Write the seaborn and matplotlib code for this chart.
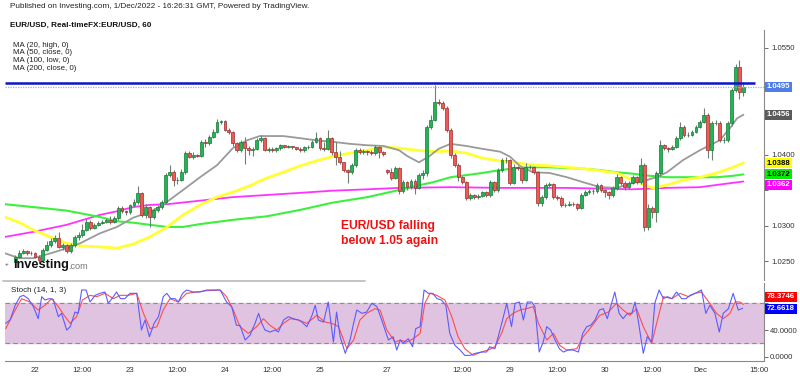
import numpy as np
import pandas as pd
import matplotlib
matplotlib.use("Agg")
import matplotlib.pyplot as plt
from matplotlib.lines import Line2D
import seaborn as sns

# ---------------- data ----------------
OPEN0 = 1.0249
SUNDAY_IDX = 94
SUNDAY_OPEN = 1.0378

closes = [
    1.0256, 1.0262, 1.0264, 1.0261, 1.0262, 1.0256, 1.0251, 1.0266, 1.0273, 1.0278,
    1.0282, 1.0270, 1.0272, 1.0264, 1.0273, 1.0284, 1.0287, 1.0294, 1.0305, 1.0297,
    1.0301, 1.0304, 1.0305, 1.0308, 1.0305, 1.0310, 1.0325, 1.0320, 1.0319, 1.0329,
    1.0333, 1.0346, 1.0315, 1.0326, 1.0312, 1.0322, 1.0326, 1.0333, 1.0371, 1.0375,
    1.0364, 1.0364, 1.0375, 1.0402, 1.0397, 1.0399, 1.0398, 1.0418, 1.0416, 1.0425,
    1.0432, 1.0446, 1.0447, 1.0435, 1.0432, 1.0416, 1.0406, 1.0418, 1.0409, 1.0406,
    1.0408, 1.0420, 1.0423, 1.0407, 1.0408, 1.0406, 1.0409, 1.0413, 1.0411, 1.0412,
    1.0410, 1.0408, 1.0406, 1.0410, 1.0411, 1.0418, 1.0423, 1.0409, 1.0408, 1.0423,
    1.0403, 1.0397, 1.0389, 1.0378, 1.0375, 1.0385, 1.0406, 1.0404, 1.0405, 1.0403,
    1.0402, 1.0411, 1.0403, 1.0401, 1.0375, 1.0367, 1.0381, 1.0348, 1.0361, 1.0354,
    1.0363, 1.0353, 1.0371, 1.0374, 1.0439, 1.0449, 1.0474, 1.0473, 1.0466, 1.0435,
    1.0399, 1.0385, 1.0368, 1.0361, 1.0339, 1.0343, 1.0340, 1.0342, 1.0347, 1.0343,
    1.0361, 1.0350, 1.0378, 1.0392, 1.0392, 1.0360, 1.0382, 1.0381, 1.0364, 1.0382,
    1.0382, 1.0375, 1.0332, 1.0340, 1.0357, 1.0358, 1.0340, 1.0339, 1.0329, 1.0329,
    1.0331, 1.0330, 1.0325, 1.0343, 1.0347, 1.0348, 1.0348, 1.0357, 1.0350, 1.0347,
    1.0343, 1.0353, 1.0368, 1.0360, 1.0354, 1.0360, 1.0368, 1.0361, 1.0385, 1.0298,
    1.0325, 1.0319, 1.0374, 1.0413, 1.0409, 1.0408, 1.0411, 1.0423, 1.0439, 1.0427,
    1.0428, 1.0432, 1.0439, 1.0446, 1.0456, 1.0406, 1.0444, 1.0445, 1.0420, 1.0420,
    1.0444, 1.0491, 1.0523, 1.0488, 1.0495,
]
highs = [
    1.0258, 1.0265, 1.0267, 1.0266, 1.0264, 1.0263, 1.0258, 1.0268, 1.0278, 1.0283,
    1.0286, 1.0291, 1.0276, 1.0274, 1.0276, 1.0287, 1.0291, 1.0302, 1.0309, 1.0308,
    1.0304, 1.0307, 1.0308, 1.0311, 1.0313, 1.0313, 1.0328, 1.0327, 1.0322, 1.0331,
    1.0337, 1.0355, 1.0347, 1.0330, 1.0328, 1.0325, 1.0329, 1.0336, 1.0374, 1.0385,
    1.0378, 1.0368, 1.0380, 1.0405, 1.0405, 1.0403, 1.0401, 1.0421, 1.0422, 1.0428,
    1.0436, 1.0450, 1.0449, 1.0448, 1.0437, 1.0433, 1.0418, 1.0421, 1.0424, 1.0412,
    1.0411, 1.0423, 1.0427, 1.0425, 1.0410, 1.0410, 1.0411, 1.0415, 1.0414, 1.0414,
    1.0412, 1.0411, 1.0410, 1.0412, 1.0413, 1.0420, 1.0432, 1.0425, 1.0418, 1.0434,
    1.0425, 1.0418, 1.0405, 1.0390, 1.0380, 1.0388, 1.0409, 1.0409, 1.0408, 1.0406,
    1.0406, 1.0413, 1.0412, 1.0405, 1.0380, 1.0381, 1.0384, 1.0383, 1.0364, 1.0363,
    1.0366, 1.0365, 1.0374, 1.0378, 1.0442, 1.0455, 1.0498, 1.0478, 1.0475, 1.0468,
    1.0437, 1.0402, 1.0388, 1.0370, 1.0363, 1.0346, 1.0345, 1.0345, 1.0349, 1.0348,
    1.0364, 1.0362, 1.0381, 1.0395, 1.0396, 1.0394, 1.0386, 1.0384, 1.0383, 1.0388,
    1.0385, 1.0384, 1.0377, 1.0343, 1.0360, 1.0361, 1.0360, 1.0343, 1.0341, 1.0332,
    1.0334, 1.0333, 1.0332, 1.0346, 1.0350, 1.0351, 1.0351, 1.0360, 1.0358, 1.0352,
    1.0349, 1.0356, 1.0372, 1.0370, 1.0362, 1.0363, 1.0371, 1.0370, 1.0395, 1.0388,
    1.0330, 1.0328, 1.0377, 1.0420, 1.0415, 1.0411, 1.0413, 1.0426, 1.0446, 1.0441,
    1.0431, 1.0434, 1.0442, 1.0449, 1.0466, 1.0458, 1.0447, 1.0448, 1.0447, 1.0424,
    1.0447, 1.0494, 1.0528, 1.0533, 1.0502,
]
lows = [
    1.0246, 1.0254, 1.0260, 1.0259, 1.0259, 1.0254, 1.0248, 1.0249, 1.0264, 1.0270,
    1.0276, 1.0268, 1.0266, 1.0262, 1.0262, 1.0270, 1.0280, 1.0284, 1.0292, 1.0294,
    1.0295, 1.0299, 1.0302, 1.0303, 1.0302, 1.0303, 1.0308, 1.0317, 1.0315, 1.0316,
    1.0326, 1.0330, 1.0312, 1.0310, 1.0298, 1.0309, 1.0319, 1.0323, 1.0330, 1.0368,
    1.0355, 1.0358, 1.0362, 1.0372, 1.0395, 1.0394, 1.0396, 1.0396, 1.0411, 1.0413,
    1.0423, 1.0430, 1.0443, 1.0433, 1.0429, 1.0412, 1.0403, 1.0404, 1.0386, 1.0400,
    1.0398, 1.0406, 1.0418, 1.0405, 1.0404, 1.0403, 1.0404, 1.0406, 1.0409, 1.0409,
    1.0408, 1.0406, 1.0404, 1.0404, 1.0408, 1.0409, 1.0416, 1.0406, 1.0405, 1.0407,
    1.0400, 1.0385, 1.0386, 1.0376, 1.0360, 1.0372, 1.0383, 1.0401, 1.0401, 1.0400,
    1.0399, 1.0400, 1.0395, 1.0398, 1.0372, 1.0364, 1.0365, 1.0344, 1.0346, 1.0350,
    1.0352, 1.0345, 1.0351, 1.0366, 1.0370, 1.0436, 1.0447, 1.0470, 1.0463, 1.0432,
    1.0395, 1.0382, 1.0363, 1.0358, 1.0336, 1.0336, 1.0337, 1.0338, 1.0340, 1.0340,
    1.0340, 1.0347, 1.0347, 1.0375, 1.0388, 1.0357, 1.0358, 1.0378, 1.0360, 1.0362,
    1.0379, 1.0372, 1.0327, 1.0328, 1.0338, 1.0354, 1.0337, 1.0336, 1.0326, 1.0326,
    1.0327, 1.0327, 1.0322, 1.0323, 1.0341, 1.0345, 1.0345, 1.0346, 1.0347, 1.0340,
    1.0338, 1.0340, 1.0350, 1.0357, 1.0350, 1.0352, 1.0358, 1.0358, 1.0358, 1.0292,
    1.0294, 1.0310, 1.0305, 1.0370, 1.0406, 1.0404, 1.0406, 1.0409, 1.0421, 1.0424,
    1.0425, 1.0426, 1.0430, 1.0437, 1.0444, 1.0395, 1.0392, 1.0441, 1.0417, 1.0416,
    1.0418, 1.0440, 1.0488, 1.0478, 1.0483,
]

# moving averages (bar position, value)
ma20_x = [-2.6, 1, 4.5, 9, 13, 16.4, 21.4, 25.7, 29.8, 34, 37.3, 42.4, 46.7, 51, 55, 58.6,
          61.8, 67.7, 72, 76, 80, 84.6, 89, 93, 97, 99, 102, 104.5, 107, 110, 114, 118,
          122.5, 125, 127.5, 130.8, 135, 139.4, 143.5, 147.8, 152, 156, 159.6, 162, 164.7,
          168.7, 173, 175.5, 178, 180.6, 182.4, 184]
ma20_y = [1.0261, 1.0254, 1.0254, 1.0261, 1.0268, 1.0275, 1.0289, 1.0298, 1.0311, 1.0319,
          1.0329, 1.0350, 1.0368, 1.0385, 1.0409, 1.0420, 1.0426, 1.0426, 1.0423, 1.0420,
          1.0418, 1.0415, 1.0413, 1.0412, 1.0406, 1.0398, 1.0389, 1.0397, 1.0408, 1.0415,
          1.0412, 1.0408, 1.0404, 1.0397, 1.0384, 1.0375, 1.0374, 1.0368, 1.0361, 1.0354,
          1.0353, 1.0360, 1.0364, 1.0368, 1.0375, 1.0392, 1.0406, 1.0413, 1.0420, 1.0437,
          1.0451, 1.0456]
ma50_x = [-2.6, 1.2, 4.5, 8.8, 13, 17, 21.4, 25.7, 29.8, 34, 38.4, 42.4, 46.7, 51, 55, 59.3,
          63.6, 67.7, 72, 76, 80, 84.6, 89, 93, 97, 101.5, 105.6, 110, 114, 118, 122.5, 127,
          131, 135, 139.4, 143.5, 147.8, 152, 156, 159.6, 161, 164.7, 168.7, 173, 177.3,
          181.4, 184]
ma50_y = [1.0312, 1.0304, 1.0294, 1.0284, 1.0275, 1.0271, 1.0270, 1.0268, 1.0274, 1.0284,
          1.0298, 1.0315, 1.0329, 1.0340, 1.0347, 1.0356, 1.0367, 1.0375, 1.0384, 1.0391,
          1.0397, 1.0402, 1.0406, 1.0411, 1.0409, 1.0406, 1.0404, 1.0405, 1.0402, 1.0395,
          1.0391, 1.0388, 1.0385, 1.0384, 1.0382, 1.0380, 1.0377, 1.0374, 1.0364, 1.0356,
          1.0353, 1.0357, 1.0364, 1.0368, 1.0374, 1.0382, 1.0388]
ma100_x = [-2.6, 4.5, 13, 21.4, 25.7, 29.8, 34, 38.4, 42.4, 46.7, 55, 63.6, 72, 80, 89, 97,
           101.5, 105.6, 110, 114, 118, 122.5, 127, 131, 135, 139.4, 143.5, 147.8, 152, 156,
           160.4, 164.7, 173, 177.3, 181.4, 184]
ma100_y = [1.0330, 1.0326, 1.0321, 1.0312, 1.0306, 1.0304, 1.0301, 1.0298, 1.0298, 1.0302,
           1.0308, 1.0313, 1.0322, 1.0332, 1.0340, 1.0350, 1.0356, 1.0361, 1.0368, 1.0371,
           1.0374, 1.0378, 1.0381, 1.0382, 1.0382, 1.0381, 1.0380, 1.0378, 1.0375, 1.0373,
           1.0370, 1.0368, 1.0368, 1.0368, 1.0370, 1.0372]
ma200_x = [-2.6, 4.5, 13, 21.4, 25.7, 29.8, 34, 38.4, 46.7, 55, 63.6, 72, 80, 89, 97, 110,
           122.5, 139.4, 156, 164.7, 173, 179.8, 184]
ma200_y = [1.0284, 1.0291, 1.0301, 1.0315, 1.0320, 1.0326, 1.0329, 1.0330, 1.0335, 1.0340,
           1.0343, 1.0346, 1.0349, 1.0351, 1.0353, 1.0354, 1.0353, 1.0353, 1.0351, 1.0353,
           1.0354, 1.0359, 1.0362]

# stochastic %K (blue) and %D (red)
stk_x = [-2.4, -1.3, 0, 1.2, 2.1, 3.3, 4.6, 5.8, 6.7, 7.5, 8.6, 9.6, 10.9, 11.7, 13, 13.9,
         15.1, 15.9, 16.8, 17.9, 18.9, 20.2, 21.4, 22.7, 23.5, 24.8, 25.6, 26.6, 27.7, 29,
         30.7, 31.9, 32.8, 33.9, 35.1, 36.2, 37.4, 38.3, 39.3, 40.4, 41.2, 42.3, 43.3, 45,
         46.7, 48.4, 50.1, 51.8, 53.4, 54.7, 55.9, 56.8, 58.1, 59.3, 60.6, 61.5, 62.3, 63.1,
         64.4, 65.7, 66.5, 67.8, 69, 70.3, 71.6, 72.4, 73.7, 75, 75.8, 76.6, 77.9, 79.1,
         80.4, 81.2, 82.1, 83.4, 84.6, 85.5, 86.3, 87.6, 88.8, 90.1, 91.4, 92.6, 94.3, 95.5,
         96.4, 97.3, 98, 99.3, 100.4, 101.2, 102.3, 103.3, 104.4, 105.5, 106.6, 107.7, 108.8,
         109.8, 111.1, 112.4, 113.6, 114.9, 116.2, 117.8, 119.1, 119.9, 121.2, 122.5, 124.2,
         125.4, 126.3, 127.4, 128.4, 129.4, 130.5, 131.3, 132.4, 133.4, 134.3, 135.3, 136.4,
         137.5, 138.5, 139.7, 141, 142.3, 143.4, 144.4, 145.4, 146.5, 147.6, 148.6, 149.6,
         150.7, 151.5, 152.6, 153.6, 154.7, 155.8, 156.6, 157.4, 158.7, 159.7, 160.8, 161.6,
         162.7, 163.8, 164.8, 165.9, 167.1, 168.4, 169.5, 170.5, 171.8, 173.4, 174.5, 175.5,
         176.8, 177.9, 178.9, 180.2, 181.4, 182.7, 183.8]
stk_y = [50, 55, 77, 90, 92, 87, 75, 57, 90, 85, 87, 86, 60, 65, 40, 45,
         67, 65, 100, 100, 82, 92, 95, 97, 80, 90, 97, 87, 87, 95,
         95, 40, 55, 30, 50, 60, 90, 95, 87, 87, 82, 95, 100, 97,
         97, 100, 100, 100, 82, 75, 47, 47, 25, 32, 50, 65, 50, 40,
         37, 40, 37, 55, 60, 57, 55, 52, 45, 62, 77, 55, 52, 82,
         22, 67, 30, 5, 25, 50, 70, 65, 67, 80, 75, 55, 25, 30,
         10, 25, 20, 27, 15, 42, 45, 100, 95, 95, 87, 85, 77,
         35, 17, 10, 2, 2, 5, 7, 7, 15, 12, 40, 80,
         45, 80, 82, 55, 82, 82, 75, 7, 22, 45, 40, 25,
         12, 7, 10, 10, 7, 35, 45, 47, 55, 70, 72, 57,
         80, 97, 65, 57, 65, 65, 82, 55, 5, 30, 22, 80,
         100, 87, 90, 87, 97, 87, 87, 92, 95, 100, 65, 77,
         65, 37, 65, 72, 95, 70, 72.66]
std_x = [-2.4, 0, 1.6, 3.7, 5.8, 7.5, 9.2, 10.9, 12.6, 13.9, 15.5, 17, 18.9, 20.6, 22.7, 24.8,
         26.5, 28.6, 30.7, 32.4, 34.1, 35.8, 37.4, 39.1, 41.2, 43.3, 45.9, 48.4, 51.8, 53.4,
         55.1, 56.8, 58.9, 61, 62.7, 64.4, 66.1, 67.8, 69.5, 71.6, 73.7, 76.2, 78.3, 80, 81.7,
         83.8, 85.5, 87.1, 88.8, 90.9, 92.2, 93.9, 96, 97.3, 98.9, 100.6, 102.3, 103.5, 104.8,
         106.5, 108.6, 110.3, 111.9, 113.6, 115.7, 117.8, 119.5, 121.2, 122.9, 124.2, 125.8,
         127.5, 129.2, 130.9, 132.2, 134.3, 136, 137.6, 139.3, 141.9, 143.5, 145.6, 147.7,
         149.9, 151.9, 153.6, 155.3, 157, 158.7, 160.8, 162.5, 163.8, 165.9, 168, 170.1, 171.8,
         173.4, 175.5, 177.2, 178.9, 180.6, 181.9, 183.1, 184]
std_y = [42, 70, 87, 82, 70, 77, 87, 75, 60, 50, 60, 85, 92, 90, 95, 87,
         92, 92, 95, 65, 42, 45, 70, 87, 82, 95, 97, 99, 100, 90,
         70, 45, 35, 45, 57, 47, 40, 50, 57, 55, 50, 62, 52, 50, 45,
         12, 25, 55, 65, 72, 70, 40, 22, 25, 22, 27, 35, 80, 95,
         92, 85, 60, 30, 12, 2, 7, 10, 15, 35, 57, 65,
         70, 72, 75, 50, 25, 35, 17, 10, 12, 30, 45, 62,
         67, 80, 70, 62, 72, 45, 20, 60, 90, 87, 95, 90, 95,
         97, 80, 65, 57, 65, 82, 82, 78.37]

tick_pos = [5, 17, 29, 41, 53, 65, 77, 94, 113, 125, 137, 149, 161, 173, 188]
tick_lbl = ["22", "12:00", "23", "12:00", "24", "12:00", "25", "27", "12:00",
            "29", "12:00", "30", "12:00", "Dec", "15:00"]

price_ticks = [1.0250, 1.0300, 1.0350, 1.0400, 1.0450, 1.0500, 1.0550]
price_tick_labels = ["1.0250", "1.0300", "", "1.0400", "", "", "1.0550"]
resistance = 1.0500
last_price = 1.0495
ma_last = [1.0456, 1.0388, 1.0372, 1.0362]
stoch_last = [78.3746, 72.6618]
stoch_bands = [20, 80]
stoch_ticks = [0, 40, 80]
stoch_tick_labels = ["0.0000", "40.0000", ""]

# ---------------- style ----------------
sns.set_theme(style="white")
plt.rcParams["font.family"] = ["Liberation Sans", "DejaVu Sans"]

W, H = 800, 376
fig = plt.figure(figsize=(W / 100, H / 100), dpi=100)
fig.patch.set_facecolor("white")

def fx(px):
    return px / W

def fy(py):
    return 1 - py / H

ax = fig.add_axes([fx(5), fy(280), fx(764) - fx(5), fy(30) - fy(280)])
ax2 = fig.add_axes([fx(5), fy(361), fx(764) - fx(5), fy(283) - fy(361)])

XMIN, XMAX = -2.58, 189.2
n = len(closes)
idx = np.arange(n)
opens = [OPEN0] + closes[:-1]
opens[SUNDAY_IDX] = SUNDAY_OPEN
o = np.array(opens)
c = np.array(closes)
hi = np.array(highs)
lo = np.array(lows)

# moving averages
for xs, ys, col, lw in [(ma200_x, ma200_y, "#ff33ff", 1.3),
                        (ma100_x, ma100_y, "#3cf03c", 1.5),
                        (ma50_x, ma50_y, "#ffff33", 2.0),
                        (ma20_x, ma20_y, "#9a9a9a", 1.3)]:
    sns.lineplot(x=xs, y=ys, ax=ax, color=col, lw=lw, zorder=2, sort=False)

# candles
up = c >= o
ax.vlines(idx, lo, hi, color="#6f7f74", lw=0.8, zorder=3)
ax.bar(idx[up], (c - o)[up], bottom=o[up], width=0.72, color="#23b455",
       edgecolor="#157a36", lw=0.5, zorder=4)
ax.bar(idx[~up], (c - o)[~up], bottom=o[~up], width=0.72, color="#ef5a55",
       edgecolor="#9e2b2b", lw=0.5, zorder=4)

# horizontal lines
ax.hlines(resistance, XMIN, 186.8, color="#0a14d0", lw=1.8, zorder=5)
ax.axhline(last_price, color="#8fb0f5", lw=0.9, ls=(0, (1, 1)), zorder=5)

ax.set_xlim(XMIN, XMAX)
ax.set_ylim(1.02233, 1.05753)
ax.yaxis.tick_right()
ax.set_yticks(price_ticks)
ax.set_yticklabels(price_tick_labels)
ax.tick_params(axis="y", labelsize=5.6, colors="#555555", length=3, width=0.6,
               labelcolor="#333333", pad=2)
ax.set_xticks([])
for s in ["top", "left", "bottom"]:
    ax.spines[s].set_visible(False)
ax.spines["right"].set_color("#8a8a8a")
ax.spines["right"].set_linewidth(0.8)
ax.set_facecolor("white")

# value boxes on price axis (stacked at pixel rows like the source)
box_specs = [(last_price, 87, "#4f7fe6", "white"),
             (ma_last[0], 115, "#5a5a5a", "white"),
             (ma_last[1], 163, "#ffff00", "black"),
             (ma_last[2], 174, "#00ee00", "black"),
             (ma_last[3], 185, "#ff00ff", "white")]
for val, ypx, bg, fg in box_specs:
    fig.text(fx(767), fy(ypx), f"{val:.4f}", ha="left", va="center", fontsize=5.6,
             color=fg, fontweight="bold",
             bbox=dict(boxstyle="square,pad=0.22", fc=bg, ec="none"), zorder=10)

# stochastic pane
ax2.axhspan(stoch_bands[0], stoch_bands[1], color="#e0c3e0", zorder=0)
for b in stoch_bands:
    ax2.axhline(b, color="#8c8c8c", lw=0.8, ls=(0, (4, 3)), zorder=1)
sns.lineplot(x=stk_x, y=stk_y, ax=ax2, color="#5c5cff", lw=0.8, zorder=3, sort=False)
sns.lineplot(x=std_x, y=std_y, ax=ax2, color="#ff4d4d", lw=0.8, zorder=2, sort=False)
ax2.set_xlim(XMIN, XMAX)
ax2.set_ylim(-6.45, 110.5)
ax2.yaxis.tick_right()
ax2.set_yticks(stoch_ticks)
ax2.set_yticklabels(stoch_tick_labels)
ax2.set_xticks(tick_pos)
ax2.set_xticklabels(tick_lbl)
ax2.tick_params(axis="both", labelsize=5.6, colors="#555555", length=3, width=0.6,
                labelcolor="#333333", pad=1)
for s in ["top", "left"]:
    ax2.spines[s].set_visible(False)
for s in ["right", "bottom"]:
    ax2.spines[s].set_color("#8a8a8a")
    ax2.spines[s].set_linewidth(0.8)
ax2.set_facecolor("white")

for val, ypx, bg in [(stoch_last[0], 297, "#ff0000"), (stoch_last[1], 309, "#0000ff")]:
    fig.text(fx(767), fy(ypx), f"{val:.4f}", ha="left", va="center", fontsize=5.6,
             color="white", fontweight="bold",
             bbox=dict(boxstyle="square,pad=0.22", fc=bg, ec="none"), zorder=10)

# texts
fig.text(fx(10), fy(7), "Published on Investing.com, 1/Dec/2022 - 16:26:31 GMT, Powered by TradingView.",
         fontsize=5.9, color="#222222", va="center", ha="left")
fig.text(fx(10), fy(25), "EUR/USD, Real-timeFX:EUR/USD, 60", fontsize=5.9,
         fontweight="bold", color="#111111", va="center", ha="left")
for k, t in enumerate(["MA (20, high, 0)", "MA (50, close, 0)", "MA (100, low, 0)",
                       "MA (200, close, 0)"]):
    fig.text(fx(13), fy(45.5 + 7.5 * k), t, fontsize=5.7, color="#222222",
             va="center", ha="left")

fig.text(fx(341), fy(226), "EUR/USD falling", fontsize=8.7, fontweight="bold",
         color="#f01010", va="center", ha="left")
fig.text(fx(341), fy(241), "below 1.05 again", fontsize=8.7, fontweight="bold",
         color="#f01010", va="center", ha="left")

fig.text(fx(5), fy(264), "+", fontsize=4.5, color="#333333", va="center", ha="left")
fig.text(fx(13), fy(265), "Investing", fontsize=9.2, fontweight="bold",
         color="#111111", va="center", ha="left")
fig.text(fx(68.5), fy(266.5), ".com", fontsize=6.6, color="#777777", va="center", ha="left")

fig.text(fx(11), fy(291), "Stoch (14, 1, 3)", fontsize=5.8, color="#222222",
         va="center", ha="left")

fig.add_artist(Line2D([fx(3), fx(365)], [fy(281), fy(281)], color="#c4c4c4", lw=1.4))

fig.savefig("out.png", dpi=100, facecolor="white")
